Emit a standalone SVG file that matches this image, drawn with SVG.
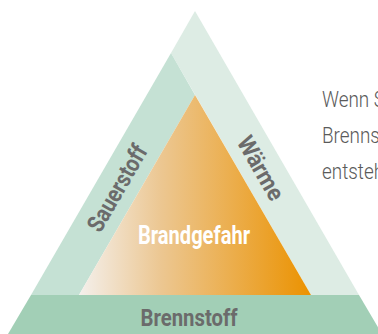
<svg xmlns="http://www.w3.org/2000/svg" width="378" height="334" viewBox="0 0 378 334">
<defs>
<linearGradient id="fire" gradientUnits="userSpaceOnUse" x1="79" y1="0" x2="311" y2="0">
<stop offset="0" stop-color="#f4f0ec"/>
<stop offset="0.35" stop-color="#ecc792"/>
<stop offset="1" stop-color="#eb9200"/>
</linearGradient>
<style>
.lbl{font-family:Roboto,"Liberation Sans",sans-serif;font-weight:bold;font-size:24px;fill:#6b6b6b;text-anchor:middle}
.side{font-family:Roboto,"Liberation Sans",sans-serif;font-weight:300;font-size:22px;fill:#5a5a5a}
</style>
</defs>
<rect width="378" height="334" fill="#ffffff"/>
<g id="waerme">
<polygon points="195,11 359,295 311,295 171,53" fill="#ddece4"/>
<text class="lbl" transform="translate(261,168) rotate(60)" x="0" y="8.5" textLength="70" lengthAdjust="spacingAndGlyphs">Wärme</text>
</g>
<g id="sauerstoff">
<polygon points="171,53 195,95 79,295 31,295" fill="#c5e1d4"/>
<text class="lbl" transform="translate(117,188) rotate(-60)" x="0" y="8.5" textLength="96" lengthAdjust="spacingAndGlyphs">Sauerstoff</text>
</g>
<g id="brandgefahr">
<polygon points="195,95 311,295 79,295" fill="url(#fire)"/>
<text class="lbl" x="194" y="244" style="fill:#ffffff;font-size:25px" textLength="112" lengthAdjust="spacingAndGlyphs">Brandgefahr</text>
</g>
<g id="brennstoff">
<polygon points="31,295 359,295 382,334 8,334" fill="#a2cfb6"/>
<text class="lbl" x="189" y="326" textLength="97" lengthAdjust="spacingAndGlyphs">Brennstoff</text>
</g>
<g id="connectors"></g>
<g id="beschreibung" transform="translate(322,0) scale(0.86,1)">
<text class="side" x="0" y="107">Wenn S</text>
<text class="side" x="0" y="143">Brenns</text>
<text class="side" x="0" y="179">entsteh</text>
</g>
</svg>
